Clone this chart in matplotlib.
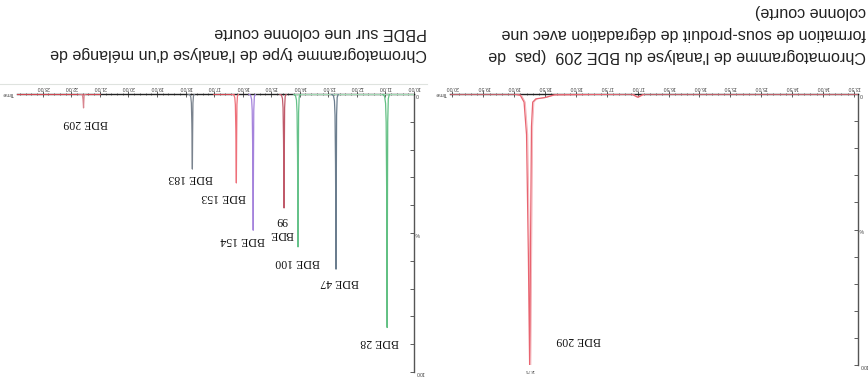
import matplotlib.pyplot as plt
from matplotlib.lines import Line2D
from matplotlib.ticker import MultipleLocator, FormatStrFormatter, FixedLocator, FixedFormatter

# --- mélange de PBDE (panneau de gauche) ---
mix_names = ['BDE 28', 'BDE 47', 'BDE 100', 'BDE\n99', 'BDE 154', 'BDE 153', 'BDE 183', 'BDE 209']
mix_rt = [10.94, 12.73, 14.06, 14.55, 15.63, 16.22, 17.76, 21.57]
mix_height = [84, 63, 55, 41, 49, 32, 27, 5]
mix_colors = ['#62c083', '#6b7d8e', '#66c28a', '#c05a6a', '#a583dc', '#ee707a', '#7a838e', '#d8848e']
# bouts de ligne de base colorés (début, fin)
mix_base_red = [(21.0, 23.9), (16.3, 17.0)]
mix_base_green = [(10.0, 14.2)]

# --- BDE 209 seul (panneau de droite) ---
bde209_t = [20.04, 19.0, 18.9, 18.84, 18.8, 18.77, 18.75, 18.735, 18.72, 18.70, 18.65, 18.5, 18.35,
            17.1, 17.0, 16.9, 13.43]
bde209_i = [0, 0, 0.5, 3, 15, 60, 100, 55, 12, 3, 1.8, 1.3, 0.3, 0, 1.2, 0, 0]

# décalage des étiquettes par rapport au sommet (temps, %)
label_offsets = [(0.25, 5.2), (-0.14, 4.6), (0.03, 5.4), (0.07, 6.8),
                 (0.38, 3.5), (0.46, 5.0), (0.07, 3.2), (-0.07, 5.4)]

W, H = 868, 385
plt.rcParams['font.family'] = ['Liberation Sans', 'DejaVu Sans']
fig = plt.figure(figsize=(W / 100, H / 100), dpi=100)
ax1 = fig.add_axes([17 / W, 1 - 372 / H, 397 / W, 278 / H])
ax2 = fig.add_axes([450 / W, 1 - 365 / H, 408 / W, 271 / H])

# fin trait gris du cadre au-dessus du panneau gauche
fig.add_artist(Line2D([0, 427 / W], [1 - 84 / H, 1 - 84 / H], color='#dfe3df', lw=0.8))


def setup(ax, t_min, t_max, major, minor):
    # image retournée : le temps croît vers la gauche, l'intensité vers le bas
    ax.set_xlim(t_max, t_min)
    ax.set_ylim(100, 0)
    for s in ['left', 'bottom']:
        ax.spines[s].set_visible(False)
    ax.spines['top'].set_color('#222222')
    ax.spines['top'].set_linewidth(1.0)
    ax.spines['right'].set_color('#555555')
    ax.spines['right'].set_linewidth(1.0)
    ax.xaxis.set_ticks_position('top')
    ax.yaxis.set_ticks_position('right')
    ax.xaxis.set_major_locator(MultipleLocator(major))
    ax.xaxis.set_minor_locator(MultipleLocator(minor))
    ax.xaxis.set_major_formatter(FormatStrFormatter('%.2f'))
    ax.yaxis.set_major_locator(FixedLocator([0, 50, 100]))
    ax.yaxis.set_major_formatter(FixedFormatter(['0', '%', '100']))
    ax.yaxis.set_minor_locator(MultipleLocator(10))
    ax.tick_params(axis='x', which='both', direction='inout', colors='#444444',
                   labelsize=3.8, labelrotation=180, pad=1)
    ax.tick_params(axis='x', which='major', length=4, width=0.6)
    ax.tick_params(axis='x', which='minor', length=2, width=0.5)
    ax.tick_params(axis='y', which='both', direction='in', colors='#444444',
                   labelsize=3.8, labelrotation=180, pad=1)
    ax.tick_params(axis='y', which='major', length=3, width=0.6)
    ax.tick_params(axis='y', which='minor', length=3, width=0.6)
    ax.text(-0.008, 1.0, 'Time', transform=ax.transAxes, ha='right', va='center',
            rotation=180, fontsize=3.8, color='#444444')
    ax.patch.set_alpha(0)


setup(ax1, 10.0, 23.9, 1.0, 0.2)
setup(ax2, 13.43, 20.04, 0.5, 0.1)

# panneau gauche : lignes de base et pics
for a, b in mix_base_red:
    ax1.plot([a, b], [0, 0], color='#e04a55', lw=1.3, zorder=3)
for a, b in mix_base_green:
    ax1.plot([a, b], [0, 0], color='#a5d9b5', lw=0.9, zorder=3)

# forme d'un pic (traîne du côté des temps longs)
shape_dt = [0.16, 0.09, 0.055, 0.035, 0.018, 0, -0.01, -0.02, -0.04, -0.08]
shape_f = [0, 0.01, 0.04, 0.12, 0.4, 1, 0.5, 0.12, 0.02, 0]
for name, rt, h, c, (dx, dy) in zip(mix_names, mix_rt, mix_height, mix_colors, label_offsets):
    ax1.plot([rt + d for d in shape_dt], [h * f for f in shape_f], color=c, lw=0.9, zorder=4)
    ax1.text(rt + dx, h + dy, name, rotation=180, ha='center', va='center',
             fontsize=8.5, family='Liberation Serif', color='#111111', linespacing=1.3)

# panneau droit : BDE 209 seul
ax2.plot([bde209_t[0], bde209_t[-1]], [0, 0], color='#333333', lw=1.2, zorder=2)
ax2.plot(bde209_t, bde209_i, color='#e86470', lw=0.9, zorder=4)
ax2.plot([t - 0.02 for t in bde209_t], bde209_i, color='#f4b0b6', lw=0.6, zorder=3)
ax2.text(18.75, 101, '18.75', rotation=180, ha='center', va='top', fontsize=3, color='#444444')
ax2.text(17.96, 90.8, 'BDE 209', rotation=180, ha='center', va='center',
         fontsize=8.5, family='Liberation Serif', color='#111111')

# titres (à l'envers comme l'image)
title_kw = dict(rotation=180, ha='right', va='center', fontsize=11.6, color='#222222')
fig.text(427 / W, 1 - 53 / H, "Chromatogramme type de l'analyse d'un mélange de", **title_kw)
fig.text(427 / W, 1 - 32 / H, "PBDE sur une colonne courte", **title_kw)
fig.text(866 / W, 1 - 55 / H, "Chromatogramme de l'analyse du BDE 209  (pas  de", **title_kw)
fig.text(866 / W, 1 - 33 / H, "formation de sous-produit de dégradation avec une", **title_kw)
fig.text(866 / W, 1 - 12 / H, "colonne courte)", **title_kw)

fig.savefig('out.png', dpi=100)
